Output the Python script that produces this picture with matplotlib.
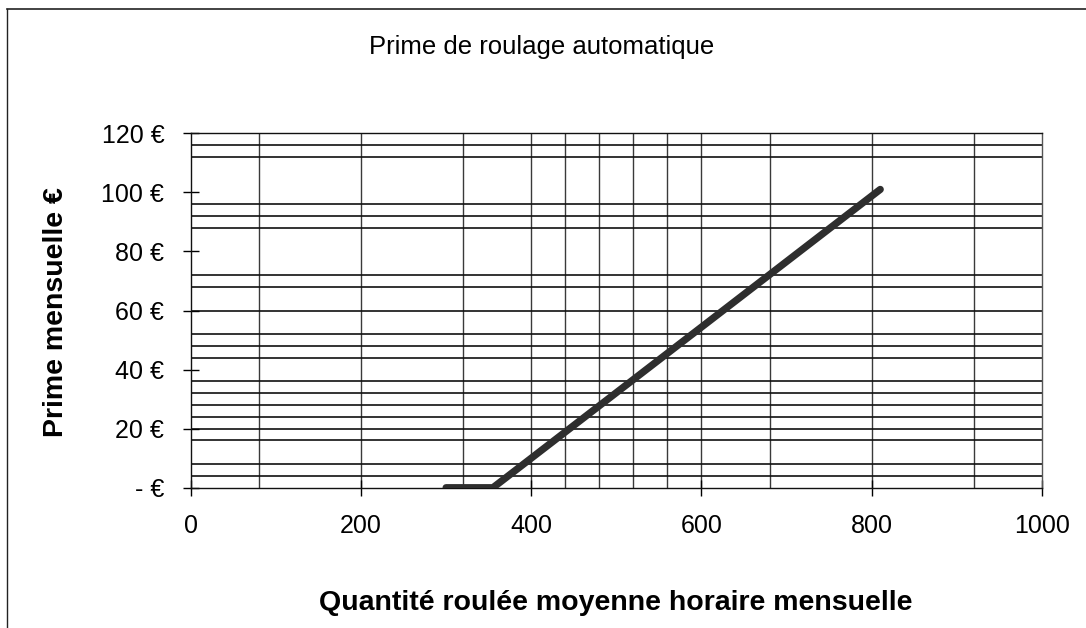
import matplotlib
matplotlib.use("Agg")
import matplotlib.pyplot as plt
from matplotlib.lines import Line2D

# ---- data ----
quantite = [300, 355, 810]
prime = [0, 0, 101]
x_ticks = [0, 200, 400, 600, 800, 1000]
y_ticks = [0, 20, 40, 60, 80, 100, 120]
y_tick_labels = ["- €", "20 €", "40 €", "60 €", "80 €", "100 €", "120 €"]
# grid lines as they appear in the scanned chart
grid_x = [80, 200, 320, 400, 440, 480, 520, 560, 600, 680, 800, 920]
grid_y = [4, 8, 16, 20, 24, 28, 32, 36, 44, 48, 52, 60, 68, 72, 88, 92, 96, 112, 116]

title = "Prime de roulage automatique"
xlabel = "Quantité roulée moyenne horaire mensuelle"
ylabel = "Prime mensuelle €"

plt.rcParams['font.family'] = ['Liberation Sans', 'DejaVu Sans']

fig = plt.figure(figsize=(10.86, 6.28), dpi=100)
W, H = 1086, 628
ax = fig.add_axes([190.7 / W, 1 - 487.7 / H, (1042 - 190.7) / W, (487.7 - 133.3) / H])

for gx in grid_x:
    ax.axvline(gx, color="#3a3a3a", lw=1.0, zorder=1)
for gy in grid_y:
    ax.axhline(gy, color="#111111", lw=1.2, zorder=1)

ax.plot(quantite, prime, color="#2e2e2e", lw=5.2, solid_capstyle="round", zorder=3)

ax.set_xlim(0, 1000)
ax.set_ylim(0, 120)
ax.set_xticks(x_ticks)
ax.set_xticklabels([str(v) for v in x_ticks])
ax.set_yticks(y_ticks)
ax.set_yticklabels(y_tick_labels)
ax.tick_params(axis="both", direction="inout", length=12, width=1.0, labelsize=18, colors="black")
ax.tick_params(axis="x", pad=13)
ax.tick_params(axis="y", pad=13)

for s in ax.spines.values():
    s.set_color("#111111")
    s.set_linewidth(1.0)
ax.spines["right"].set_color("#555555")
ax.spines["right"].set_linestyle((0, (2, 1)))
ax.spines["top"].set_linestyle((0, (3, 1)))

fig.text(542 / W, 1 - 47 / H, title, ha="center", va="center", fontsize=18.5)
fig.text(616 / W, 1 - 603 / H, xlabel, ha="center", va="center", fontsize=20.5, fontweight="bold")
fig.text(56 / W, 1 - 312 / H, ylabel, ha="center", va="center", fontsize=20.5, fontweight="bold", rotation=90)

# outer chart border (left and top)
fig.add_artist(Line2D([7 / W, 7 / W], [0, 1 - 9 / H], transform=fig.transFigure, color="#222222", lw=1.0))
fig.add_artist(Line2D([7 / W, 1], [1 - 9 / H, 1 - 9 / H], transform=fig.transFigure, color="#222222", lw=1.2))

fig.savefig("out.png", dpi=100, facecolor="white")
